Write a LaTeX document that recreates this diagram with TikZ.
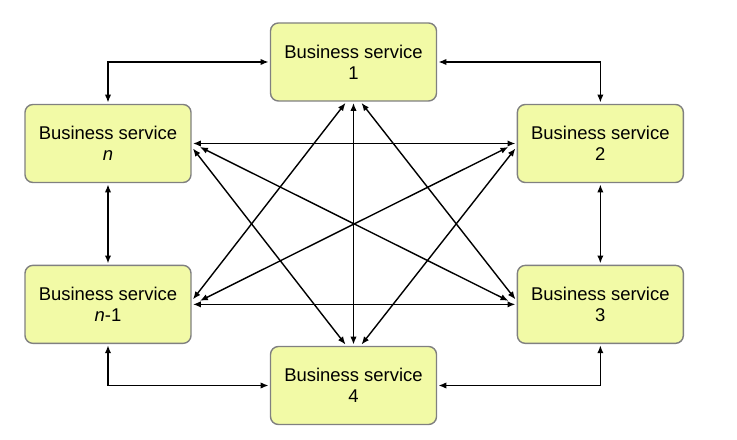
\documentclass[tikz,border=0pt]{standalone}
\usepackage{fontspec}
\setmainfont{Liberation Sans}
\usepackage{xcolor}
\usetikzlibrary{positioning,arrows.meta,calc}
\definecolor{svcfill}{RGB}{242,250,166}

\begin{document}
\begin{tikzpicture}[
  font=\fontsize{10.5}{12}\selectfont,
  >={Latex[length=4.5pt,width=3.6pt]},
  svc/.style  ={draw=black!50,line width=0.8pt,fill=svcfill,text=black,
                rounded corners=4.5pt,align=center,outer sep=1.1pt,
                minimum width=3.32cm,minimum height=1.56cm},
  link/.style ={<->,line width=0.8pt,draw=black},
]
\useasboundingbox (0,0) rectangle (14.74,8.8);

% ===================== Service boxes ====================================
\node[svc] (S1) at (7.07,7.56) {Business service\\1};
\node[svc] (Sn) at (2.16,5.93) {Business service\\\textit{n}};
\node[svc,right=6.45cm of Sn]  (S2) {Business service\\2};
\node[svc,below=1.58cm of Sn]  (Sm) {Business service\\\textit{n}-1};
\node[svc,below=1.58cm of S2]  (S3) {Business service\\3};
\node[svc] (S4) at (7.07,1.09) {Business service\\4};

% ===================== Outer ring =======================================
\draw[link] (Sn.north) |- (S1.west);
\draw[link] (S1.east) -| (S2.north);
\draw[link] (Sn.south) -- (Sm.north);
\draw[link] (S2.south) -- (S3.north);
\draw[link] (Sm.south) |- (S4.west);
\draw[link] (S4.east) -| (S3.south);

% ===================== Straight cross links =============================
\draw[link] (Sn.east) -- (S2.west);
\draw[link] (Sm.east) -- (S3.west);
\draw[link] (S1.south) -- (S4.north);

% ===================== Diagonals ========================================
\draw[link] ($(Sn.east)+(0.14,-0.07)$) -- ($(S3.west)+(-0.14,0.07)$);
\draw[link] ($(S2.west)+(-0.14,-0.07)$) -- ($(Sm.east)+(0.14,0.07)$);
\draw[link] ($(Sn.east)+(0,-0.1)$) -- ($(S4.north)+(-0.16,0)$);
\draw[link] ($(S2.west)+(0,-0.1)$) -- ($(S4.north)+(0.16,0)$);
\draw[link] ($(S1.south)+(-0.16,0)$) -- ($(Sm.east)+(0,0.1)$);
\draw[link] ($(S1.south)+(0.16,0)$) -- ($(S3.west)+(0,0.1)$);

\end{tikzpicture}
\end{document}
